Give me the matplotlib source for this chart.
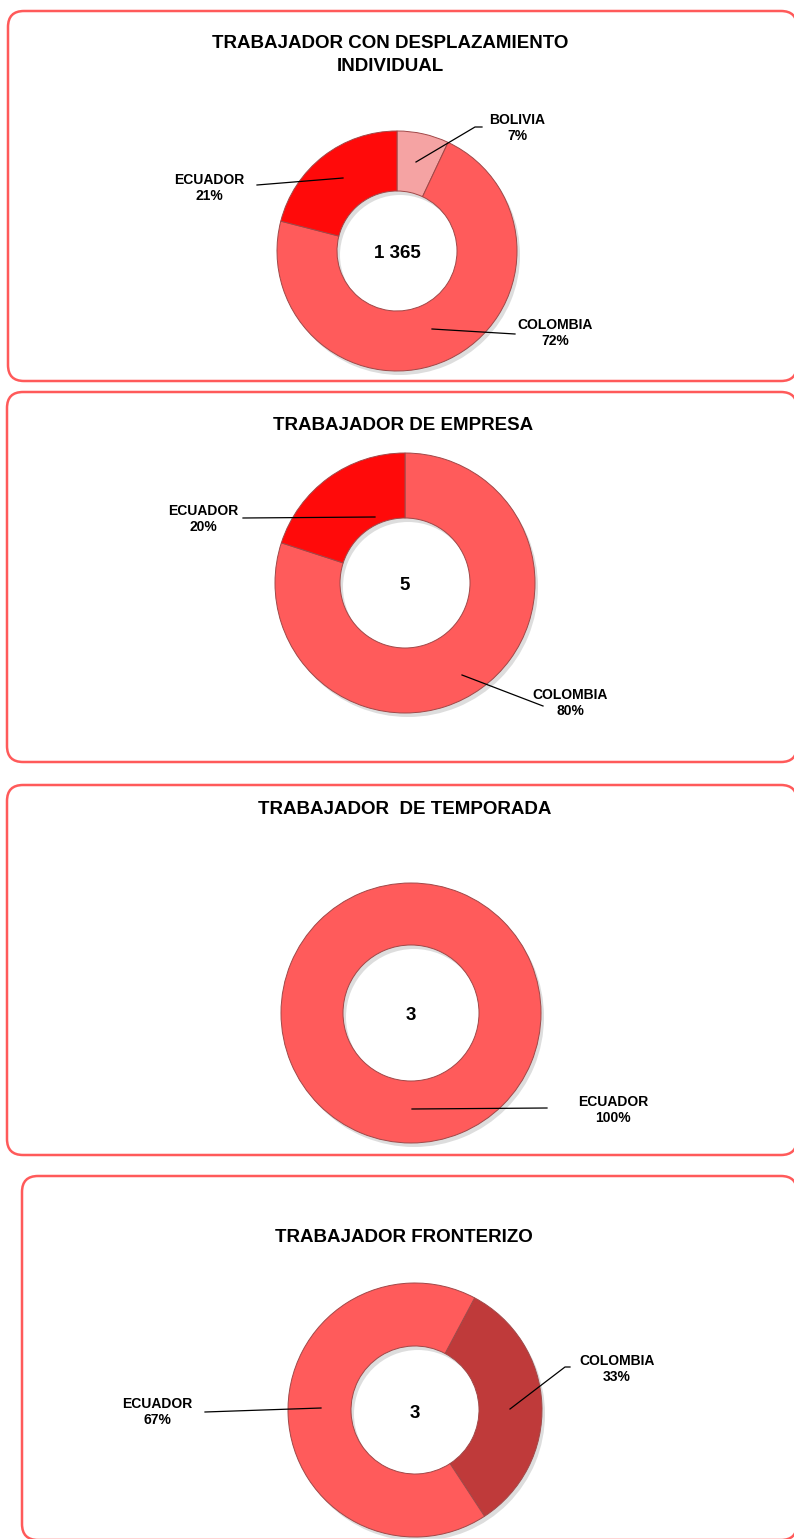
import matplotlib
matplotlib.use("Agg")
from matplotlib import pyplot as plt
from matplotlib.patches import FancyBboxPatch

plt.rcParams['font.family'] = ['Liberation Sans', 'DejaVu Sans']

# data
titles = ["TRABAJADOR CON DESPLAZAMIENTO\nINDIVIDUAL",
          "TRABAJADOR DE EMPRESA",
          "TRABAJADOR  DE TEMPORADA",
          "TRABAJADOR FRONTERIZO"]
totals = ["1 365", "5", "3", "3"]

labels1 = ["BOLIVIA", "COLOMBIA", "ECUADOR"]
pcts1 = [7, 72, 21]
labels2 = ["COLOMBIA", "ECUADOR"]
pcts2 = [80, 20]
labels3 = ["ECUADOR"]
pcts3 = [100]
labels4 = ["COLOMBIA", "ECUADOR"]
pcts4 = [33, 67]

SALMON = "#FF5B5B"
colors1 = ["#F5A3A3", SALMON, "#FF0A0A"]
colors2 = [SALMON, "#FF0A0A"]
colors3 = [SALMON]
colors4 = ["#BF3A3A", SALMON]
start_angles = [90, 90, 90, 62]

H = 1539
fig = plt.figure(figsize=(7.94, 15.39), dpi=100)
ax = fig.add_axes([0, 0, 1, 1])

# panel boxes (left, top, right, bottom) in pixels
boxes = [(8, 11, 797, 381), (7, 392, 797, 762), (7, 785, 797, 1155), (22, 1176, 797, 1540)]
for (l, t, r, b) in boxes:
    ax.add_patch(FancyBboxPatch((l, H - b), r - l, b - t,
                                boxstyle="round,pad=0,rounding_size=16",
                                fc="white", ec="#FF5A5A", lw=1.8))

# donut geometry: cx, cy, outer, inner ; title pos
geo = [(397, 251, 120, 60, 390, 55),
       (405, 583, 130, 65, 403, 425),
       (411, 1013, 130, 68, 405, 810),
       (415, 1410, 127, 64, 404, 1237)]

# label placement: text x, text y, line start (in wedge), line end
ann = [
    [("BOLIVIA", 7, 517, 128, (416, 162), (475, 127), (482, 127)),
     ("COLOMBIA", 72, 555, 333, (432, 329), (515, 334), None),
     ("ECUADOR", 21, 209, 188, (343, 178), (257, 185), None)],
    [("COLOMBIA", 80, 570, 703, (462, 675), (543, 706), None),
     ("ECUADOR", 20, 203, 519, (375, 517), (243, 518), None)],
    [("ECUADOR", 100, 613, 1110, (412, 1109), (547, 1108), None)],
    [("COLOMBIA", 33, 617, 1369, (510, 1409), (565, 1367), (570, 1367)),
     ("ECUADOR", 67, 157, 1412, (321, 1408), (205, 1412), None)],
]

all_pcts = [pcts1, pcts2, pcts3, pcts4]
all_cols = [colors1, colors2, colors3, colors4]

for i in range(4):
    cx, cy, ro, ri, tx, ty = geo[i]
    # faint shadow
    ax.pie([1], radius=ro, center=(cx + 3, H - cy - 4), colors=["#DDDDDD"],
           wedgeprops=dict(width=ro - ri, edgecolor="none"), frame=True)
    ax.pie(all_pcts[i], radius=ro, center=(cx, H - cy), colors=all_cols[i],
           startangle=start_angles[i], counterclock=False,
           wedgeprops=dict(width=ro - ri, edgecolor="#A04848", linewidth=0.7),
           frame=True)
    ax.text(cx, H - cy - 3, totals[i], ha="center", va="center",
            fontsize=13.5, fontweight="bold")
    ax.text(tx, H - ty, titles[i], ha="center", va="center", fontsize=13.5,
            fontweight="bold", linespacing=1.4)
    for name, p, lx, ly, p0, p1, p2 in ann[i]:
        xs = [p0[0], p1[0]] + ([p2[0]] if p2 else [])
        ys = [H - p0[1], H - p1[1]] + ([H - p2[1]] if p2 else [])
        ax.plot(xs, ys, color="black", lw=0.9)
        ax.text(lx, H - ly, f"{name}\n{p}%", ha="center", va="center",
                fontsize=10, fontweight="bold", linespacing=1.15)

ax.set_xlim(0, 794)
ax.set_ylim(0, H)
ax.set_aspect("auto")
ax.axis("off")

fig.savefig("out.png", dpi=100, facecolor="white")
